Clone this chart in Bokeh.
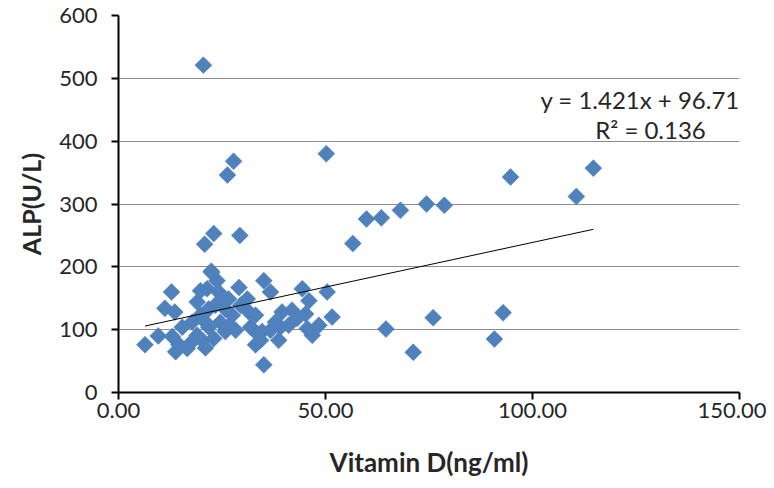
import math
from bokeh.plotting import figure
from bokeh.models import NumeralTickFormatter, FixedTicker, Label, Range1d, ColumnDataSource
from bokeh.embed import file_html
from bokeh.resources import INLINE

# Vitamin D (ng/ml) and ALP (U/L) values
vitamin_d = [
    20.5, 50.2, 27.8, 26.3, 94.7, 114.7, 110.6, 29.3, 23.0, 20.8,
    56.6, 59.9, 63.5, 68.1, 74.4, 78.7, 92.9, 90.8, 76.0, 64.6,
    71.2, 22.4,
    12.8, 11.2, 13.6, 6.4, 9.6, 13.8, 16.6, 13.0, 15.4, 17.8,
    20.2, 21.0, 19.0, 19.8, 21.8, 23.0, 19.0, 19.8, 22.5, 23.8,
    21.4, 24.2, 25.0, 25.8, 23.4, 21.8, 24.6, 25.8, 26.8, 21.0,
    17.8, 14.6,
    29.1, 26.6, 31.1, 35.1, 36.7, 44.4, 46.0, 50.4, 27.5, 28.3,
    31.5, 33.1, 31.9, 33.5, 34.7, 33.1, 34.3, 35.1, 39.5, 41.9,
    39.1, 41.1, 38.7, 43.2, 45.2, 45.6, 46.8, 48.4, 51.6, 37.9,
    36.7, 29.5,
]
alp = [
    521, 380, 368, 346, 343, 357, 312, 250, 253, 236,
    237, 276, 278, 290, 300, 298, 127, 85, 119, 101,
    64, 193,
    160, 134, 128, 76, 90, 65, 70, 89, 104, 112,
    83, 71, 91, 123, 104, 86, 144, 162, 191, 178,
    165, 160, 149, 133, 139, 133, 112, 97, 107, 112,
    81, 76,
    167, 149, 149, 178, 160, 165, 146, 160, 123, 99,
    128, 123, 104, 94, 97, 76, 83, 44, 128, 131,
    104, 107, 83, 118, 125, 102, 91, 107, 120, 112,
    99, 139,
]

x_ticks = [0, 50, 100, 150]
y_ticks = [0, 100, 200, 300, 400, 500, 600]

# Trend line (as printed on the chart)
slope_fit = 1.421
intercept_fit = 96.71
trend_x = [min(vitamin_d), max(vitamin_d)]
trend_y = [slope_fit * v + intercept_fit for v in trend_x]

FONT = "Lato"
TXT = "#262626"

p = figure(width=766, height=480, output_backend="svg", toolbar_location=None,
           x_range=Range1d(0, 150), y_range=Range1d(0, 600),
           min_border_left=118, min_border_right=27, min_border_top=15, min_border_bottom=87)
p.outline_line_color = None
p.background_fill_color = "white"

p.xgrid.grid_line_color = None
p.ygrid.grid_line_color = "#8c8c8c"
p.ygrid.grid_line_width = 1

src = ColumnDataSource(dict(x=vitamin_d, y=alp))
p.scatter("x", "y", source=src, marker="square", size=12, angle=math.pi / 4,
          fill_color="#4f81bd", line_color="#4f81bd", line_width=0.5)

p.line(trend_x, trend_y, line_color="black", line_width=1)

for ax in (p.xaxis[0], p.yaxis[0]):
    ax.axis_line_color = "black"
    ax.axis_line_width = 2
    ax.major_tick_line_color = "black"
    ax.major_tick_line_width = 2
    ax.major_tick_in = 0
    ax.major_tick_out = 7
    ax.minor_tick_line_color = None
    ax.major_label_text_font = FONT
    ax.major_label_text_font_size = "22px"
    ax.major_label_text_color = TXT
    ax.axis_label_text_font = FONT
    ax.axis_label_text_font_style = "bold"
    ax.axis_label_text_font_size = "25px"
    ax.axis_label_text_color = TXT

p.xaxis.ticker = FixedTicker(ticks=x_ticks)
p.yaxis.ticker = FixedTicker(ticks=y_ticks)
p.xaxis.formatter = NumeralTickFormatter(format="0.00")
p.xaxis.axis_label = "Vitamin D(ng/ml)"
p.yaxis.axis_label = "ALP(U/L)"
p.xaxis.major_label_standoff = 3
p.yaxis.major_label_standoff = 14
p.xaxis.axis_label_standoff = 25
p.yaxis.axis_label_standoff = 10
p.xaxis.axis_label_text_font_size = "26px"

eq1 = Label(x=126, y=466, text="y = 1.421x + 96.71", text_align="center", text_baseline="middle",
            text_font=FONT, text_font_size="24px", text_color=TXT)
eq2 = Label(x=128.5, y=419, text="R² = 0.136", text_align="center", text_baseline="middle",
            text_font=FONT, text_font_size="24px", text_color=TXT)
p.add_layout(eq1)
p.add_layout(eq2)

open("out.html", "w").write(file_html(p, INLINE))
